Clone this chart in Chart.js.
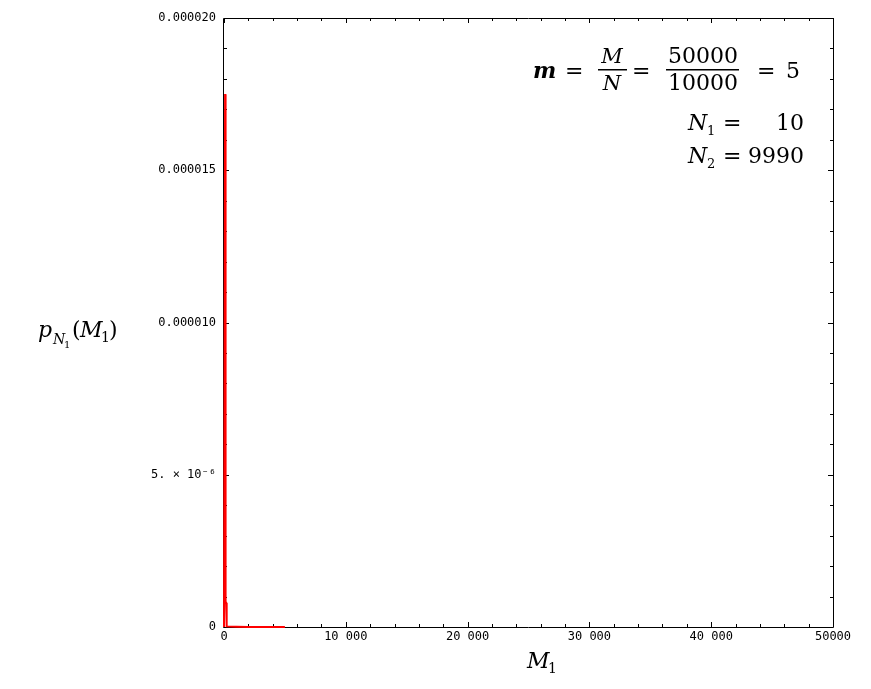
<!DOCTYPE html>
<html>
<head>
<meta charset="utf-8">
<script src="https://cdn.jsdelivr.net/npm/chart.js@4/dist/chart.umd.min.js"></script>
<style>
  html, body { margin: 0; padding: 0; background: #fff; }
  #wrap { width: 871px; height: 689px; }
</style>
</head>
<body>
<div id="wrap"><canvas id="chart" width="871" height="689"></canvas></div>
<script>
// values
var m1Values = [0, 90, 130, 170, 220, 1000, 2000, 3000, 4000, 5000];
var pValues = [0, 0.0000175, 0.0000008, 0.0000008, 0.00000002, 0.00000001, 0, 0, 0, 0];

var yTickValues = [0, 0.000005, 0.00001, 0.000015, 0.00002];
var yTickLabels = ["0", "5. \u00d7 10\u207b\u2076", "0.000010", "0.000015", "0.000020"];
var xTickValues = [0, 10000, 20000, 30000, 40000, 50000];
var xTickLabels = ["0", "10 000", "20 000", "30 000", "40 000", "50000"];

var points = [];
for (var i = 0; i < m1Values.length; i++) {
    points.push({ x: m1Values[i], y: pValues[i] });
}

var tickFont = { family: "'DejaVu Sans Mono', monospace", size: 12 };
var serif = "'DejaVu Serif', 'Liberation Serif', serif";

//Frame and inside ticks, drawn under the curve
var frame = {
    id: 'frame',
    beforeDatasetsDraw: function (chart) {
        var ctx = chart.ctx;
        var a = chart.chartArea;
        var xs = chart.scales.x, ys = chart.scales.y;
        ctx.save();
        ctx.strokeStyle = '#000';
        ctx.lineWidth = 1;
        ctx.beginPath();
        ctx.moveTo(a.left - 0.5, a.top + 0.5); ctx.lineTo(a.right + 0.5, a.top + 0.5);
        ctx.lineTo(a.right + 0.5, a.bottom + 0.5); ctx.lineTo(a.left - 0.5, a.bottom + 0.5);
        ctx.closePath();

        for (var v = 0; v <= 50000; v += 2000) {
            var px = Math.round(xs.getPixelForValue(v)) + 0.5;
            var len = (v % 10000 === 0) ? 5 : 3;
            ctx.moveTo(px, a.bottom); ctx.lineTo(px, a.bottom - len);
            ctx.moveTo(px, a.top); ctx.lineTo(px, a.top + len);
        }
        for (var k = 0; k <= 20; k++) {
            var py = Math.round(ys.getPixelForValue(k * 0.000001)) + 0.5;
            var l2 = (k % 5 === 0) ? 5 : 3;
            ctx.moveTo(a.left, py); ctx.lineTo(a.left + l2, py);
            ctx.moveTo(a.right, py); ctx.lineTo(a.right - l2, py);
        }
        ctx.stroke();
        ctx.restore();
    },
    //Axis titles and the math text
    afterDraw: function (chart) {
        var ctx = chart.ctx;
        ctx.save();
        ctx.fillStyle = '#000';
        ctx.textBaseline = 'alphabetic';
        ctx.font = 'italic 22px ' + serif;
        ctx.fillText('M', 527, 668);
        ctx.font = '14px ' + serif;
        ctx.fillText('1', 548, 673);

        ctx.font = 'italic 22px ' + serif;
        ctx.fillText('p', 38, 337);
        ctx.font = 'italic 14px ' + serif;
        ctx.fillText('N', 53, 344);
        ctx.font = '10px ' + serif;
        ctx.fillText('1', 64, 348);
        ctx.font = '22px ' + serif;
        ctx.fillText('(', 72, 337);
        ctx.font = 'italic 22px ' + serif;
        ctx.fillText('M', 80, 337);
        ctx.font = '14px ' + serif;
        ctx.fillText('1', 101, 342);
        ctx.font = '22px ' + serif;
        ctx.fillText(')', 109, 337);

        ctx.font = 'bold italic 22px ' + serif;
        ctx.fillText('m', 533, 78);
        ctx.font = '22px ' + serif;
        ctx.fillText('=', 565, 78);
        ctx.fillText('=', 632, 78);
        ctx.fillText('=', 757, 78);
        ctx.fillText('5', 786, 78);
        ctx.font = 'italic 21px ' + serif;
        ctx.textAlign = 'center';
        ctx.fillText('M', 612, 63);
        ctx.fillText('N', 612, 90);
        ctx.font = '22px ' + serif;
        ctx.fillText('50000', 703, 63);
        ctx.fillText('10000', 703, 90);
        ctx.fillRect(598, 69, 29, 1.5);
        ctx.fillRect(666, 69, 73, 1.5);

        ctx.textAlign = 'left';
        ctx.font = 'italic 22px ' + serif;
        ctx.fillText('N', 688, 130);
        ctx.fillText('N', 688, 163);
        ctx.font = '13px ' + serif;
        ctx.fillText('1', 707, 135);
        ctx.fillText('2', 707, 168);
        ctx.font = '22px ' + serif;
        ctx.fillText('=', 723, 130);
        ctx.fillText('=', 723, 163);
        ctx.textAlign = 'right';
        ctx.fillText('10', 804, 130);
        ctx.fillText('9990', 804, 163);
        ctx.restore();
    }
};

var ctx = document.getElementById('chart').getContext('2d');
var chart = new Chart(ctx, {
    type: 'scatter',
    data: {
        datasets: [{
            data: points,
            showLine: true,
            borderColor: '#ff0000',
            borderWidth: 2,
            pointRadius: 0,
            tension: 0,
            clip: false
        }]
    },
    options: {
        responsive: false,
        animation: false,
        events: [],
        layout: { padding: { left: 0, right: 38, top: 18, bottom: 0 } },
        plugins: { legend: { display: false }, tooltip: { enabled: false } },
        scales: {
            x: {
                type: 'linear',
                min: 0, max: 50000,
                afterFit: function (scale) { scale.height = 62; },
                afterBuildTicks: function (scale) {
                    scale.ticks = xTickValues.map(function (v) { return { value: v }; });
                },
                ticks: {
                    color: '#000', font: tickFont, padding: 3, maxRotation: 0, autoSkip: false,
                    callback: function (v) { return xTickLabels[xTickValues.indexOf(v)]; }
                },
                grid: { drawOnChartArea: false, drawTicks: false },
                border: { display: false }
            },
            y: {
                type: 'linear',
                min: 0, max: 0.00002,
                afterFit: function (scale) { scale.width = 224; },
                afterBuildTicks: function (scale) {
                    scale.ticks = yTickValues.map(function (v) { return { value: v }; });
                },
                ticks: {
                    color: '#000', font: tickFont, padding: 8, autoSkip: false,
                    callback: function (v, idx) { return yTickLabels[idx]; }
                },
                grid: { drawOnChartArea: false, drawTicks: false },
                border: { display: false }
            }
        }
    },
    plugins: [frame]
});
</script>
</body>
</html>
